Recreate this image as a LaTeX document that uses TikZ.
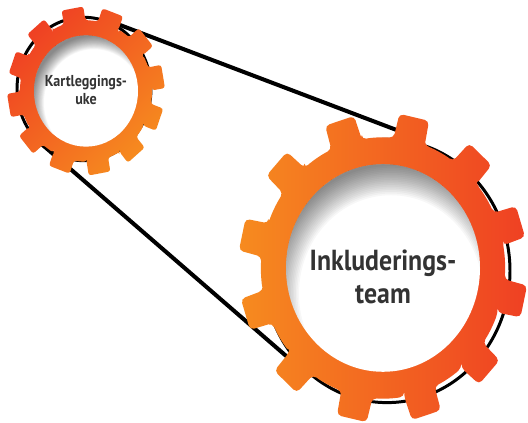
\documentclass[tikz,border=0pt]{standalone}
\usepackage{fontspec}
\setmainfont{PT Sans}
\newfontfamily\gearfont[FakeStretch=0.89]{PT Sans}
\definecolor{gearred}{HTML}{EF4023}
\definecolor{gearorange}{HTML}{F68B1F}
% #1 body radius, #2 tip radius, #3 first tooth angle, #4 half root, #5 half tip
\newcommand{\gearpath}[5]{
	(#3-#4:#1)
	\foreach \a in {0,30,...,330} {
		-- (#3+\a-#4:#1) -- (#3+\a-#5:#2) -- (#3+\a+#5:#2) -- (#3+\a+#4:#1)
		arc[start angle=#3+\a+#4,delta angle=30-2*#4,radius=#1]
	} -- cycle
}
% #1 hole radius, #2 shadow centre, #3 smallest radius, #4 largest radius
\newcommand{\holeshadow}[4]{
	\fill[white] (0,0) circle (#1);
	\begin{scope}
		\clip (0,0) circle (#1);
		\foreach \k in {0,...,17}
			\fill[black,opacity=0.032,even odd rule] (-200,-200) rectangle (200,200) #2 circle[radius={#3+(#4-#3)*\k/18}];
	\end{scope}
}
\begin{document}
\begin{tikzpicture}[x=0.02cm,y=0.02cm,
	belt/.style={draw=black,line width=2.3pt},
	gearbelt/.style={draw=black,line width=1.7pt},
	bigteeth/.style={rounded corners=2.5pt,left color=gearorange,right color=gearred},
	smallteeth/.style={rounded corners=1.5pt,top color=gearred,bottom color=gearorange,shading angle=45},
	biglabel/.style={align=center,font=\gearfont\bfseries\fontsize{16.5}{18.7}\selectfont,text=black!80},
	smalllabel/.style={align=center,font=\gearfont\bfseries\fontsize{9}{10.2}\selectfont,text=black!80}]
	\useasboundingbox (0,0) rectangle (528,423);
	\coordinate (smallgear) at (86,332);
	\coordinate (biggear) at (383,155);
	\coordinate (smallrim) at (84,334);
	\coordinate (bigrim) at (387,152);
	\coordinate (beltTopA) at (111,401.4);
	\coordinate (beltTopB) at (415,286);
	\coordinate (beltLowA) at (30,289);
	\coordinate (beltLowB) at (300,55);
	% belt
	\draw[belt] (beltTopA) -- (beltTopB);
	\draw[belt] (beltLowA) -- (beltLowB);
	\draw[gearbelt,shift={(smallrim)},yscale=1.07] (0,0) circle (67);
	\draw[gearbelt,shift={(bigrim)},yscale=1.07] (0,0) circle (123);
	% small gear
	\begin{scope}[shift={(smallgear)},yscale=1.07]
		\shade[smallteeth] \gearpath{66}{79}{10}{9.5}{8};
		\holeshadow{52}{(8,-11)}{50}{63}
	\end{scope}
	% big gear
	\begin{scope}[shift={(biggear)},yscale=1.07]
		\shade[bigteeth] \gearpath{122}{145}{17.5}{7.5}{6};
		\holeshadow{97}{(8,-24)}{92}{121}
	\end{scope}
	\node[smalllabel] (kartlegging) at (86,333) {Kartleggings-\\uke};
	\node[biglabel] (inkludering) at (383,146) {Inkluderings-\\team};
\end{tikzpicture}
\end{document}
